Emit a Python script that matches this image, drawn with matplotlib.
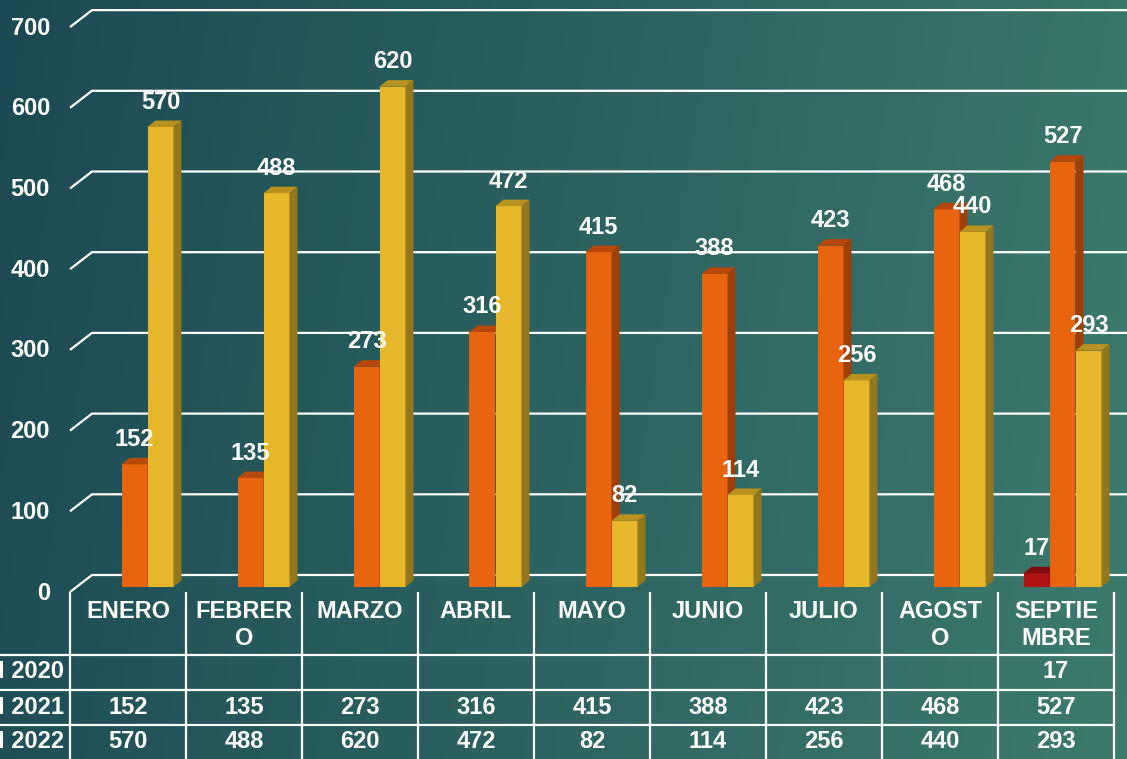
import numpy as np
import matplotlib
matplotlib.use("Agg")
import matplotlib.pyplot as plt
from matplotlib.patches import Polygon

plt.rcParams['font.family'] = ['Liberation Sans', 'DejaVu Sans']

# data
meses = ["ENERO", "FEBRERO", "MARZO", "ABRIL", "MAYO", "JUNIO", "JULIO", "AGOSTO", "SEPTIEMBRE"]
meses_tabla = ["ENERO", "FEBRER\nO", "MARZO", "ABRIL", "MAYO", "JUNIO", "JULIO", "AGOST\nO", "SEPTIE\nMBRE"]
series = ["I 2020", "I 2021", "I 2022"]
v2020 = [None, None, None, None, None, None, None, None, 17]
v2021 = [152, 135, 273, 316, 415, 388, 423, 468, 527]
v2022 = [570, 488, 620, 472, 82, 114, 256, 440, 293]

W, H = 1127, 759
FS = 17
fig = plt.figure(figsize=(W / 100, H / 100), dpi=100)

# background gradient
bg = fig.add_axes([0, 0, 1, 1])
xx = np.linspace(0, 1, 256)
yy = np.linspace(0, 1, 128)
X, Y = np.meshgrid(xx, yy)
left = np.array([0.11, 0.29, 0.33])
right = np.array([0.24, 0.48, 0.43])
t = np.clip(X * 0.9 + Y * 0.1, 0, 1)
img = left[None, None, :] * (1 - t[..., None]) + right[None, None, :] * t[..., None]
bg.imshow(img, aspect='auto', extent=[0, 1, 1, 0])
bg.set_xlim(0, 1)
bg.set_ylim(1, 0)
bg.axis('off')

# main axes: front plane x 70..1114 px, bar plane 0 at y=587 px
ux = 116.0     # px per category
uy = 0.807     # px per unit
ax = fig.add_axes([70 / W, (H - 587) / H, 1044 / W, 565 * 1.0 / H])
ax.set_xlim(-0.5, 8.5)
ax.set_ylim(0, 565 / uy)
ax.axis('off')
ax.patch.set_alpha(0)

# gridlines on back wall
for v in range(0, 701, 100):
    ax.plot([-0.5, -0.5 + 22 / ux, 8.8], [v - 5 / uy, v + 12 / uy, v + 12 / uy],
            color='white', lw=1.6, clip_on=False, zorder=1, solid_capstyle='butt')
    ax.text(-0.5 - 20 / ux, v - 6 / uy, str(v), ha='right', va='center',
            color='white', fontsize=FS, fontweight='bold')

# bars
bw = 26 / ux
dx0 = 6.5 / ux
ddx = 8 / ux
ddy = 6.5 / uy
estilos = [
    (v2020, -bw, '#B01414', '#7E0D0D', '#6E0B0B'),
    (v2021, 0.0, '#E8640F', '#B5480A', '#9E3F08'),
    (v2022, bw, '#E6B72A', '#B8921E', '#94771C'),
]
xs = np.arange(len(meses))
for k, (vals, off, cf, ct, cs) in enumerate(estilos):
    for i, v in enumerate(vals):
        if v is None:
            continue
        xc = xs[i] + dx0 + off
        x0, x1 = xc - bw / 2, xc + bw / 2
        z = 3 + k
        ax.bar(xc, v, width=bw, color=cf, zorder=z, linewidth=0)
        ax.add_patch(Polygon([(x0, v), (x1, v), (x1 + ddx, v + ddy), (x0 + ddx, v + ddy)],
                             closed=True, color=ct, lw=0, zorder=z))
        ax.add_patch(Polygon([(x1, 0), (x1, v), (x1 + ddx, v + ddy), (x1 + ddx, ddy)],
                             closed=True, color=cs, lw=0, zorder=z))
for k, (vals, off, cf, ct, cs) in enumerate(estilos):
    for i, v in enumerate(vals):
        if v is None:
            continue
        xc = xs[i] + dx0 + off
        ax.text(xc, v + ddy + 7 / uy, str(v), ha='center', va='bottom',
                color='white', fontsize=FS, fontweight='bold', zorder=10)

# data table
tab = fig.add_axes([0, 0, 1, 1])
tab.set_xlim(0, W)
tab.set_ylim(H, 0)
tab.axis('off')
tab.patch.set_alpha(0)
for k in range(10):
    xv = 70 + ux * k
    tab.plot([xv, xv], [592, H + 2], color='white', lw=1.6, solid_capstyle='butt')
for yh in [655, 690, 725]:
    tab.plot([0, 1114], [yh, yh], color='white', lw=1.6, solid_capstyle='butt')

for i, m in enumerate(meses_tabla):
    tab.text(70 + ux * i + ux / 2, 600, m, ha='center', va='top', color='white',
             fontsize=FS, fontweight='bold', linespacing=1.22)

filas = [v2020, v2021, v2022]
ycent = [672, 707, 742]
for r, (nombre, vals) in enumerate(zip(series, filas)):
    tab.text(64, ycent[r], nombre, ha='right', va='center', color='white',
             fontsize=FS, fontweight='bold')
    for i, v in enumerate(vals):
        if v is None:
            continue
        tab.text(70 + ux * i + ux / 2, ycent[r], str(v), ha='center', va='center',
                 color='white', fontsize=FS, fontweight='bold')

fig.savefig("out.png", dpi=100)
